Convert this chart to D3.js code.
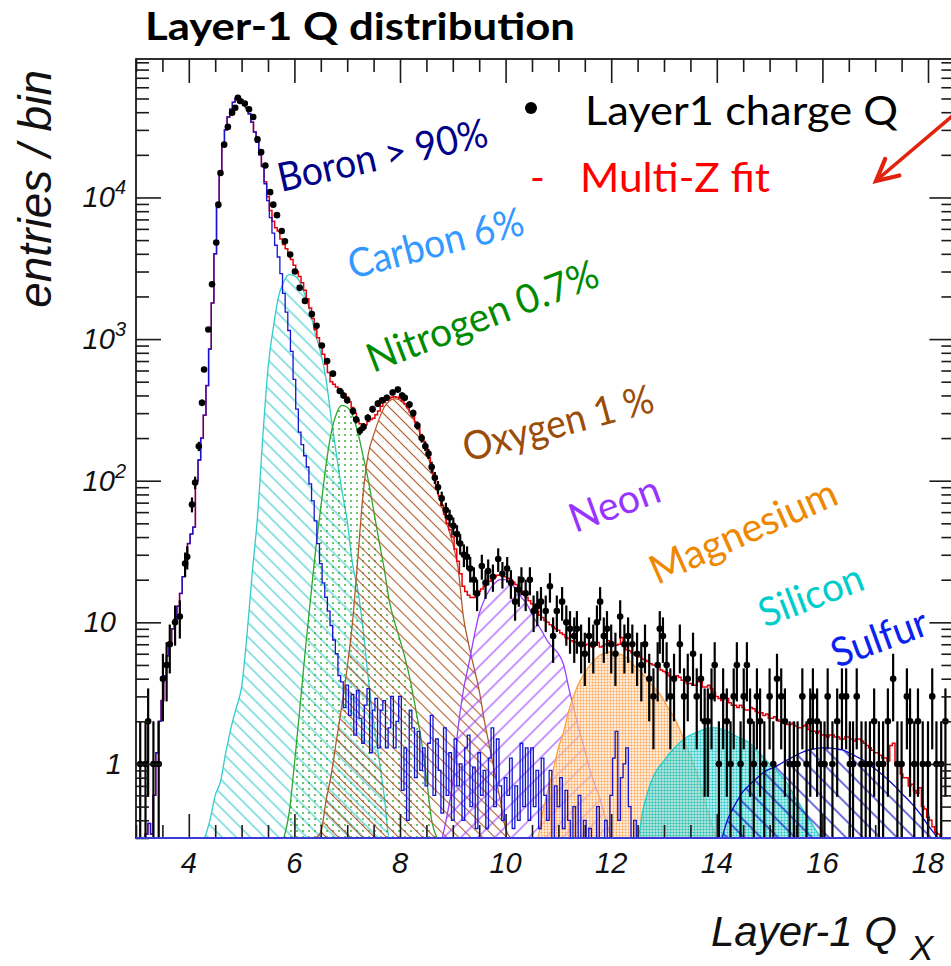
<!DOCTYPE html>
<html>
<head>
<meta charset="utf-8">
<script src="https://cdn.jsdelivr.net/npm/d3@7"></script>
<style>
  body { margin: 0; background: #fff; }
  svg { display: block; }
</style>
</head>
<body>
<svg id="chart" width="951" height="966"></svg>
<script>
// ---------------------------------------------------------------
// Layer-1 charge distribution with multi-template (Multi-Z) fit
// ---------------------------------------------------------------

// Axis ranges and ticks
const qDomain = [3, 18.5];
const countDomain = [0.3, 95000];
const xMajorTicks = [4, 6, 8, 10, 12, 14, 16, 18];
const xMajorLabels = ["4", "6", "8", "10", "12", "14", "16", "18"];
const yDecadeExponents = [0, 1, 2, 3, 4];

// Measured Layer-1 charge: bin centre and entries
const dataQ = [
  3.08, 3.18, 3.23, 3.33, 3.43, 3.51, 3.58, 3.64, 3.74, 3.83,
  3.93, 3.97, 4.06, 4.12, 4.19, 4.25, 4.29, 4.37, 4.44, 4.52,
  4.56, 4.60, 4.67, 4.74, 4.82, 4.88, 4.93, 4.97, 5.06, 5.14,
  5.22, 5.30, 5.37, 5.45, 5.54, 5.60, 5.67, 5.76, 5.82, 5.92,
  6.01, 6.10, 6.20, 6.33, 6.42, 6.52, 6.62, 6.73, 6.86, 6.93,
  7.00, 7.11, 7.17, 7.24, 7.31, 7.39, 7.48, 7.58, 7.66, 7.75,
  7.86, 7.96, 8.04, 8.09, 8.18, 8.25, 8.33, 8.41, 8.48, 8.54,
  8.60, 8.66, 8.72, 8.79, 8.87, 8.94, 9.01, 9.08, 9.14, 9.21,
  9.27, 9.33, 9.40, 9.46, 9.55, 9.62, 9.67, 9.76, 9.86, 9.94,
  10.03, 10.10, 10.18, 10.25, 10.30, 10.38, 10.46, 10.53, 10.60, 10.67,
  10.76, 10.84, 10.90, 10.97, 11.07, 11.15, 11.22, 11.30, 11.35, 11.43,
  11.50, 11.58, 11.66, 11.73, 11.79, 11.86, 11.92, 12.00, 12.08, 12.17,
  12.25, 12.32, 12.40, 12.49, 12.57, 12.64, 12.72, 12.80, 12.88, 12.92,
  12.98, 13.05, 13.12, 13.19, 13.30, 13.38, 13.45, 13.55, 13.62, 13.70,
  13.77, 13.83, 13.90, 13.96, 14.04, 14.12, 14.19, 14.26, 14.32, 14.38,
  14.45, 14.51, 14.57, 14.63, 14.70, 14.76, 14.82, 14.90, 15.00, 15.07,
  15.14, 15.22, 15.29, 15.38, 15.46, 15.53, 15.62, 15.70, 15.77, 15.82,
  15.90, 15.97, 16.04, 16.10, 16.19, 16.28, 16.37, 16.45, 16.52, 16.58,
  16.65, 16.74, 16.82, 16.90, 16.98, 17.07, 17.15, 17.24, 17.34, 17.42,
  17.50, 17.60, 17.66, 17.74, 17.81, 17.90, 18.00, 18.08, 18.16, 18.25,
  18.33
];
const dataN = [
  1, 1, 2, 1, 1, 4, 5, 7, 10, 11,
  26, 29, 68, 97, 175, 355, 610, 1170, 2440, 4800,
  8900, 14900, 23600, 31500, 39700, 43000, 50500, 48000, 46000, 42000,
  37000, 25700, 20900, 16800, 10900, 8900, 7500, 5800, 4900, 3950,
  3000, 2300, 1860, 1500, 1240, 900, 700, 570, 430, 400,
  370, 310, 270, 225, 240, 278, 320, 350, 370, 385,
  420, 440, 400, 385, 345, 300, 245, 200, 175, 155,
  125, 105, 90, 75, 62, 55, 48, 42, 36, 30,
  29, 24, 20, 16, 25, 19, 23, 21, 28, 22,
  24, 19, 14, 17, 20, 16, 20, 12, 13, 14,
  12, 18, 8, 12, 14, 10, 9, 8, 9, 7,
  6, 8, 7, 10, 14, 8, 9, 7, 6, 11,
  7, 8, 7, 6, 5, 7, 4, 3, 5, 9,
  8, 5, 3, 4, 7, 3, 4, 6, 3, 4,
  2, 2, 3, 5, 1, 3, 2, 1, 3, 5,
  1, 3, 5, 2, 1, 3, 2, 1, 3, 1,
  4, 3, 2, 1, 1, 1, 3, 1, 2, 3,
  2, 1, 1, 3, 1, 2, 3, 3, 1, 1,
  3, 1, 1, 1, 2, 1, 1, 2, 4, 1,
  1, 3, 2, 1, 2, 1, 1, 3, 1, 1,
  2
];

// Fine binning shared by the boron template and the total fit
const fineStart = 3.0, fineStep = 0.05;

// Boron template (from Q = 3.0, step 0.05)
const boronValues = [
  0, 0, 0, 0.25, 0.32, 0.38, 0.32, 0.6, 1.2, 2.0,
  2.8, 4.2, 5.8, 7.2, 9.0, 10.5, 13, 16, 21, 30,
  36, 42, 47, 100, 140, 200, 290, 470, 850, 1800,
  4000, 8500, 15000, 23000, 30000, 37000, 42000, 47000, 50000, 51000,
  49000, 46500, 43000, 39000, 34000, 29000, 24500, 20000, 16500, 12500,
  9500, 7200, 5600, 4600, 3800, 2900, 2100, 1550, 1150, 820,
  520, 320, 220, 180, 150, 125, 95, 72, 52, 36,
  26, 19, 15, 12, 9.5, 7.5, 6.0, 4.2, 3.8, 2.5,
  3.6, 2.2, 3.1, 1.6, 3.3, 2.1, 1.4, 2.6, 3.4, 1.2,
  2.4, 2.9, 1.3, 2.4, 2.8, 1.3, 1.8, 3.0, 1.3, 2.0,
  3.0, 0.65, 1.3, 0.4, 2.4, 1.8, 0.8, 1.7, 0.9, 1.3,
  0.7, 1.4, 2.2, 0.6, 1.5, 0.9, 0.45, 1.8, 0.6, 1.2,
  0.4, 1.5, 0.7, 1.0, 0.4, 1.3, 1.6, 0.5, 0.95, 0.35,
  1.2, 0.6, 0.9, 0.35, 1.1, 1.8, 0.5, 1.5, 0.7, 0.4,
  0.8, 0.6, 1.1, 0.35, 0.7, 0.4, 1.4, 0.5, 1.3, 0.4,
  1.3, 0.5, 0.9, 0.35, 1.1, 0.6, 0.4, 0.9, 0.3, 0.7,
  0.5, 0.8, 0.35, 0.65, 0.4, 0.3, 0.5, 0.3, 0.6, 0.3,
  0.4, 0.3, 0.35, 0.3, 0.3, 0.5, 0.3, 0.3, 0.4, 0.3,
  0.6, 1.1, 1.7, 0.4, 0.8, 1.0, 1.3, 0.5, 0.3, 0.4,
  0
];

// Total Multi-Z fit (from Q = 3.0, step 0.05)
const fitValues = [
  0, 0, 0, 0.25, 0.32, 0.38, 0.32, 0.6, 1.2, 2.0,
  2.8, 4.2, 5.8, 7.2, 9.0, 10.5, 13, 16, 21, 30,
  36, 42, 47, 100, 140, 200, 290, 470, 850, 1800,
  4000, 8500, 15000, 23000, 30000, 37000, 42000, 47000, 50000, 51000,
  49000, 46500, 43000, 39000, 34000, 29000, 24600, 20100, 16700, 12900,
  10100, 8100, 6800, 6100, 5800, 5100, 4650, 4350, 4000, 3650,
  3320, 3000, 2770, 2500, 2210, 1930, 1660, 1400, 1165, 1020,
  890, 780, 665, 580, 500, 480, 458, 445, 431, 410,
  390, 360, 329, 300, 268, 252, 240, 248, 262, 270,
  276, 292, 310, 335, 357, 370, 381, 388, 391, 388,
  380, 366, 350, 328, 305, 283, 260, 236, 210, 190,
  168, 145, 120, 105, 90, 78, 67, 58, 50, 45,
  40, 33, 27, 22, 18, 16.5, 15.5, 15, 15, 15.5,
  16.5, 17.2, 18, 18.8, 19.5, 20.3, 21, 21.5, 21.5, 21.3,
  21, 20.5, 20, 19.2, 18.5, 17.5, 16.5, 15.8, 15, 14.2,
  13.5, 12.6, 12, 11.2, 10.8, 10.3, 10, 9.6, 9.3, 9.0,
  8.8, 8.4, 8.2, 7.8, 7.7, 7.4, 7.3, 7.2, 7.1, 6.9,
  6.9, 7.0, 6.8, 6.7, 6.9, 7.2, 6.7, 6.8, 7.0, 7.4,
  7.3, 7.1, 6.9, 7.0, 7.8, 7.0, 6.4, 6.3, 6.1, 5.9,
  5.8, 5.7, 5.5, 5.4, 5.3, 5.1, 5.0, 5.0, 4.8, 4.6,
  4.5, 4.4, 4.2, 4.1, 4.0, 4.2, 4.1, 3.9, 3.8, 3.7,
  3.7, 3.6, 3.6, 3.8, 3.8, 3.5, 3.5, 3.6, 3.4, 3.2,
  3.0, 2.9, 2.8, 2.9, 2.9, 2.7, 2.6, 2.6, 2.5, 2.6,
  2.5, 2.4, 2.4, 2.5, 2.45, 2.35, 2.3, 2.3, 2.2, 2.25,
  2.1, 2.1, 2.15, 2.05, 2.0, 2.0, 1.95, 1.9, 1.9, 1.95,
  1.85, 1.8, 1.8, 1.85, 1.9, 1.75, 1.7, 1.7, 1.65, 1.7,
  1.6, 1.6, 1.55, 1.6, 1.6, 1.55, 1.55, 1.5, 1.5, 1.55,
  1.55, 1.5, 1.45, 1.5, 1.5, 1.45, 1.4, 1.35, 1.3, 1.25,
  1.2, 1.2, 1.15, 1.1, 1.1, 1.05, 1.35, 1.4, 1.0, 1.0,
  0.85, 0.8, 0.8, 0.7, 0.72, 0.65, 0.62, 0.68, 0.5, 0.48,
  0.42, 0.4, 0.36, 0.33, 0.32, 0.3, 0.28, 0.26, 0.25, 0.25,
  0.25
];

// Heavier templates (step 0.1)
const templateStep = 0.1;
const carbonStart = 4.3;
const carbonValues = [
  0.25, 0.4, 0.6, 0.75, 1.2, 1.8, 2.5, 3.5, 8, 22,
  55, 200, 620, 1200, 2000, 2550, 2850, 2800, 2550, 2050,
  1550, 1080, 800, 520, 270, 150, 85, 52, 26, 17,
  9, 4, 2, 1.1, 0.6, 0.3, 0.2
];
const nitrogenStart = 5.8;
const nitrogenValues = [
  0.25, 0.45, 1.0, 2.4, 6, 14, 32, 65, 130, 220,
  300, 340, 330, 290, 220, 150, 100, 62, 38, 24,
  14, 10, 7.5, 5.5, 3.8, 2.4, 1.5, 0.8, 0.4, 0.25
];
const oxygenStart = 6.4;
const oxygenValues = [
  0.25, 0.33, 0.55, 0.85, 1.5, 2.6, 4.8, 10, 28, 80,
  155, 210, 270, 330, 365, 380, 370, 340, 300, 255,
  205, 165, 118, 88, 65, 48, 36, 24, 11, 7,
  4.8, 3.3, 2.0, 1.3, 0.85, 0.55, 0.35, 0.25
];
const neonStart = 8.8;
const neonValues = [
  0.3, 0.45, 0.75, 1.8, 3.3, 5, 7.8, 11.5, 14.5, 17,
  19, 20, 20, 18.8, 17, 15, 13.5, 11.5, 9.8, 8.5,
  7.3, 6.6, 6.0, 5.0, 3.4, 2.4, 1.7, 1.25, 0.9, 0.7,
  0.55, 0.4, 0.3
];
const magnesiumStart = 10.5;
const magnesiumValues = [
  0.25, 0.3, 0.45, 0.65, 0.9, 1.3, 1.7, 2.4, 3.1, 3.8,
  4.4, 5.0, 5.5, 5.9, 6.1, 6.2, 6.1, 5.9, 5.6, 5.1,
  4.7, 4.3, 3.9, 3.5, 3.2, 2.8, 2.4, 2.1, 1.75, 1.4,
  1.15, 0.9, 0.7, 0.5, 0.38, 0.3, 0.25
];
const siliconStart = 12.4;
const siliconValues = [
  0.25, 0.3, 0.47, 0.65, 0.82, 0.95, 1.05, 1.18, 1.3, 1.42,
  1.52, 1.6, 1.66, 1.72, 1.78, 1.8, 1.8, 1.76, 1.7, 1.62,
  1.55, 1.5, 1.42, 1.32, 1.2, 1.1, 1.0, 0.92, 0.84, 0.76,
  0.66, 0.57, 0.5, 0.43, 0.38, 0.33, 0.28
];
const sulfurStart = 14.1;
const sulfurValues = [
  0.25, 0.4, 0.48, 0.56, 0.64, 0.7, 0.76, 0.82, 0.88, 0.92,
  0.95, 1.0, 1.05, 1.1, 1.15, 1.2, 1.24, 1.27, 1.29, 1.3,
  1.3, 1.29, 1.27, 1.25, 1.2, 1.15, 1.1, 1.05, 0.98, 0.92,
  0.86, 0.8, 0.74, 0.68, 0.62, 0.57, 0.52, 0.47, 0.42, 0.37,
  0.33, 0.3, 0.25
];

// Species annotation texts
const speciesNames = ["Boron > 90%", "Carbon 6%", "Nitrogen 0.7%", "Oxygen 1 %",
                      "Neon", "Magnesium", "Silicon", "Sulfur"];

// ---------------------------------------------------------------
const svg = d3.select("#chart");
const plot = { left: 136, right: 954.4, top: 59, bottom: 838 };

const x = d3.scaleLinear().domain(qDomain).range([plot.left, plot.right]);
const y = d3.scaleLog().domain(countDomain).range([plot.bottom, plot.top]);
const yc = v => y(Math.max(v, countDomain[0]));

const toPoints = (start, step, values) =>
  values.map((v, i) => ({ q: start + i * step, v }));

// ---- patterns ----
const defs = svg.append("defs");
defs.append("clipPath").attr("id", "plot-clip")
  .append("rect")
  .attr("x", plot.left).attr("y", plot.top)
  .attr("width", plot.right - plot.left).attr("height", plot.bottom - plot.top);

function hatch(id, color, spacing, angle, width) {
  const p = defs.append("pattern").attr("id", id)
    .attr("patternUnits", "userSpaceOnUse")
    .attr("width", spacing).attr("height", spacing)
    .attr("patternTransform", `rotate(${angle})`);
  p.append("line").attr("x1", 0).attr("y1", spacing / 2)
    .attr("x2", spacing).attr("y2", spacing / 2)
    .attr("stroke", color).attr("stroke-width", width);
}
function dots(id, color, spacing, r, bg) {
  const p = defs.append("pattern").attr("id", id)
    .attr("patternUnits", "userSpaceOnUse")
    .attr("width", spacing).attr("height", spacing);
  if (bg) p.append("rect").attr("width", spacing).attr("height", spacing).attr("fill", bg);
  p.append("circle").attr("cx", spacing / 2).attr("cy", spacing / 2)
    .attr("r", r).attr("fill", color);
}
hatch("hatch-carbon", "#35c9c9", 10, 45, 1.1);
dots("dots-nitrogen", "#2aa82a", 6, 0.9, null);
hatch("hatch-oxygen", "#b05a2c", 8.5, 45, 1.1);
hatch("hatch-neon", "#9a40ff", 12, -45, 1.1);
dots("dots-magnesium", "#ffa04a", 3, 0.95, "rgba(255,225,195,0.6)");
dots("dots-silicon", "#1ec4c4", 3, 1.05, "rgba(120,225,225,0.55)");
hatch("hatch-sulfur", "#1010c8", 12, 45, 1.2);

const g = svg.append("g").attr("clip-path", "url(#plot-clip)");

// ---- templates (filled) ----
const templates = [
  { pts: toPoints(carbonStart, templateStep, carbonValues),       stroke: "#33cccc", fill: "url(#hatch-carbon)" },
  { pts: toPoints(nitrogenStart, templateStep, nitrogenValues),   stroke: "#2aa82a", fill: "url(#dots-nitrogen)" },
  { pts: toPoints(oxygenStart, templateStep, oxygenValues),       stroke: "#b05a2c", fill: "url(#hatch-oxygen)" },
  { pts: toPoints(neonStart, templateStep, neonValues),           stroke: "#9a40ff", fill: "url(#hatch-neon)" },
  { pts: toPoints(magnesiumStart, templateStep, magnesiumValues), stroke: "#ffa040", fill: "url(#dots-magnesium)" },
  { pts: toPoints(siliconStart, templateStep, siliconValues),     stroke: "#22cccc", fill: "url(#dots-silicon)" },
  { pts: toPoints(sulfurStart, templateStep, sulfurValues),       stroke: "#0a0ad0", fill: "url(#hatch-sulfur)" }
];
const templArea = d3.area()
  .x(d => x(d.q)).y0(plot.bottom).y1(d => yc(d.v))
  .curve(d3.curveMonotoneX);

g.selectAll("path.templ").data(templates).join("path")
  .attr("class", "templ")
  .attr("d", d => templArea(d.pts))
  .attr("fill", d => d.fill)
  .attr("stroke", d => d.stroke)
  .attr("stroke-width", 1.3);

// ---- total fit (red) and boron template (blue) ----
const stepLine = d3.line().x(d => x(d.q)).y(d => yc(d.v)).curve(d3.curveStep);
g.append("path")
  .attr("d", stepLine(toPoints(fineStart, fineStep, fitValues)))
  .attr("fill", "none").attr("stroke", "#e8000b").attr("stroke-width", 1.5);
g.append("path")
  .attr("d", stepLine(toPoints(fineStart, fineStep, boronValues)))
  .attr("fill", "none").attr("stroke", "#1414d2").attr("stroke-width", 1.3);

// ---- data points with Poisson errors ----
const data = dataQ.map((q, i) => ({ q, n: dataN[i] }));
g.selectAll("line.err").data(data).join("line")
  .attr("class", "err")
  .attr("x1", d => x(d.q)).attr("x2", d => x(d.q))
  .attr("y1", d => yc(d.n + Math.sqrt(d.n)))
  .attr("y2", d => yc(d.n - Math.sqrt(d.n)))
  .attr("stroke", "#000").attr("stroke-width", 2.2);
g.selectAll("circle.pt").data(data).join("circle")
  .attr("class", "pt")
  .attr("cx", d => x(d.q)).attr("cy", d => yc(d.n))
  .attr("r", 3.3).attr("fill", "#000");

// ---- frame and ticks ----
const axisColor = "#1a1a1a";
const xMinor = d3.range(qDomain[0], qDomain[1] + 1e-9, 0.5).filter(v => !xMajorTicks.includes(v));
const yMajor = yDecadeExponents.map(e => Math.pow(10, e));
const yMinor = [];
for (let e = -1; e <= 4; e++) for (let m = 2; m <= 9; m++) {
  const v = m * Math.pow(10, e);
  if (v > countDomain[0] && v < countDomain[1]) yMinor.push(v);
}

function styleAxis(sel) {
  sel.select(".domain").remove();
  sel.selectAll("line").attr("stroke", axisColor).attr("stroke-width", 1.6);
  sel.selectAll("text").remove();
}
const axes = svg.append("g");
axes.append("g").attr("transform", `translate(0,${plot.bottom})`)
  .call(d3.axisBottom(x).tickValues(xMajorTicks).tickSize(-24)).call(styleAxis);
axes.append("g").attr("transform", `translate(0,${plot.bottom})`)
  .call(d3.axisBottom(x).tickValues(xMinor).tickSize(-13)).call(styleAxis);
axes.append("g").attr("transform", `translate(0,${plot.top})`)
  .call(d3.axisTop(x).tickValues(xMajorTicks).tickSize(-24)).call(styleAxis);
axes.append("g").attr("transform", `translate(0,${plot.top})`)
  .call(d3.axisTop(x).tickValues(xMinor).tickSize(-13)).call(styleAxis);
axes.append("g").attr("transform", `translate(${plot.left},0)`)
  .call(d3.axisLeft(y).tickValues(yMajor).tickSize(-25)).call(styleAxis);
axes.append("g").attr("transform", `translate(${plot.left},0)`)
  .call(d3.axisLeft(y).tickValues(yMinor).tickSize(-13)).call(styleAxis);
axes.append("g").attr("transform", `translate(${plot.right},0)`)
  .call(d3.axisRight(y).tickValues(yMajor).tickSize(-25)).call(styleAxis);
axes.append("g").attr("transform", `translate(${plot.right},0)`)
  .call(d3.axisRight(y).tickValues(yMinor).tickSize(-13)).call(styleAxis);

axes.append("rect")
  .attr("x", plot.left).attr("y", plot.top)
  .attr("width", plot.right - plot.left).attr("height", plot.bottom - plot.top)
  .attr("fill", "none").attr("stroke", axisColor).attr("stroke-width", 1.8);
// bottom edge is overdrawn by the template baselines
axes.append("line")
  .attr("x1", plot.left).attr("x2", plot.right)
  .attr("y1", plot.bottom).attr("y2", plot.bottom)
  .attr("stroke", "#3a3ad8").attr("stroke-width", 2.2);

// ---- tick labels ----
const axisFont = "'Liberation Sans', Arial, Helvetica, sans-serif";
svg.append("g").selectAll("text").data(xMajorTicks).join("text")
  .attr("x", d => x(d)).attr("y", plot.bottom + 35)
  .attr("text-anchor", "middle")
  .attr("font-family", axisFont).attr("font-style", "italic").attr("font-size", 29)
  .attr("fill", "#111")
  .text((d, i) => xMajorLabels[i]);

const yLab = svg.append("g")
  .attr("font-family", axisFont).attr("font-style", "italic").attr("fill", "#111");
yDecadeExponents.forEach(e => {
  const v = Math.pow(10, e);
  const yy = y(v) + 10;
  if (e === 0) {
    yLab.append("text").attr("x", 122).attr("y", yy).attr("text-anchor", "end")
      .attr("font-size", 29).text("1");
  } else if (e === 1) {
    yLab.append("text").attr("x", 116).attr("y", yy).attr("text-anchor", "end")
      .attr("font-size", 29).text("10");
  } else {
    const t = yLab.append("text").attr("x", 126).attr("y", yy).attr("text-anchor", "end")
      .attr("font-size", 29);
    t.append("tspan").text("10");
    t.append("tspan").attr("dy", -13).attr("font-size", 20).text(String(e));
  }
});

// ---- axis titles ----
svg.append("text")
  .attr("transform", "translate(51,70) rotate(-90)")
  .attr("text-anchor", "end")
  .attr("font-family", axisFont).attr("font-style", "italic").attr("font-size", 46)
  .attr("fill", "#111")
  .text("entries / bin");

const xt = svg.append("text")
  .attr("x", 711).attr("y", 946)
  .attr("font-family", axisFont).attr("font-style", "italic").attr("font-size", 42)
  .attr("fill", "#111");
xt.append("tspan").text("Layer-1 Q");
xt.append("tspan").attr("dx", 13).attr("dy", 14).attr("font-size", 35).text("X");

// ---- title ----
const slideFont = "Lato, 'Open Sans', 'Noto Sans', sans-serif";
svg.append("text")
  .attr("x", 145).attr("y", 40)
  .attr("font-family", slideFont).attr("font-weight", 700).attr("font-size", 38)
  .attr("textLength", 430).attr("lengthAdjust", "spacingAndGlyphs")
  .attr("fill", "#000")
  .text("Layer-1 Q distribution");

// ---- legend ----
svg.append("circle").attr("cx", 531).attr("cy", 108).attr("r", 6).attr("fill", "#000");
svg.append("text")
  .attr("x", 585).attr("y", 125)
  .attr("font-family", slideFont).attr("font-size", 40)
  .attr("textLength", 313).attr("lengthAdjust", "spacingAndGlyphs")
  .attr("fill", "#000").text("Layer1 charge Q");
svg.append("text")
  .attr("x", 530).attr("y", 192)
  .attr("font-family", slideFont).attr("font-size", 40)
  .attr("fill", "#ff0000").text("-");
svg.append("text")
  .attr("x", 580).attr("y", 192)
  .attr("font-family", slideFont).attr("font-size", 40)
  .attr("textLength", 190).attr("lengthAdjust", "spacingAndGlyphs")
  .attr("fill", "#ff0000").text("Multi-Z fit");

// ---- pointer arrow ----
(function () {
  const tail = [964, 106], tip = [876, 181];
  const ang = Math.atan2(tail[1] - tip[1], tail[0] - tip[0]);
  const len = 24, spread = 27 * Math.PI / 180;
  const w1 = [tip[0] + len * Math.cos(ang + spread), tip[1] + len * Math.sin(ang + spread)];
  const w2 = [tip[0] + len * Math.cos(ang - spread), tip[1] + len * Math.sin(ang - spread)];
  const col = "#e2230f";
  svg.append("line")
    .attr("x1", tail[0]).attr("y1", tail[1]).attr("x2", tip[0] + 2).attr("y2", tip[1] - 2)
    .attr("stroke", col).attr("stroke-width", 3.6);
  svg.append("path")
    .attr("d", `M${w1[0]},${w1[1]} L${tip[0]},${tip[1]} L${w2[0]},${w2[1]}`)
    .attr("fill", "none").attr("stroke", col).attr("stroke-width", 4.2)
    .attr("stroke-linejoin", "miter").attr("stroke-linecap", "round");
})();

// ---- species annotations ----
const speciesLayout = [
  { x: 281, y: 192, angle: -12.5, len: 214, color: "#000088" },
  { x: 352, y: 279, angle: -14.5, len: 180, color: "#3399ff" },
  { x: 373, y: 373, angle: -21,   len: 245, color: "#008a00" },
  { x: 467, y: 462, angle: -15,   len: 196, color: "#9a4c08" },
  { x: 575, y: 533, angle: -20,   len: 94,  color: "#9933ff" },
  { x: 657, y: 585, angle: -24,   len: 201, color: "#ee8800" },
  { x: 765, y: 628, angle: -21,   len: 109, color: "#00cccc" },
  { x: 837, y: 668, angle: -20,   len: 100, color: "#0a22ee" }
];
svg.append("g").selectAll("text").data(speciesNames).join("text")
  .attr("transform", (d, i) => `translate(${speciesLayout[i].x},${speciesLayout[i].y}) rotate(${speciesLayout[i].angle})`)
  .attr("font-family", slideFont).attr("font-size", 40)
  .attr("textLength", (d, i) => speciesLayout[i].len)
  .attr("lengthAdjust", "spacingAndGlyphs")
  .attr("fill", (d, i) => speciesLayout[i].color)
  .text(d => d);
</script>
</body>
</html>
